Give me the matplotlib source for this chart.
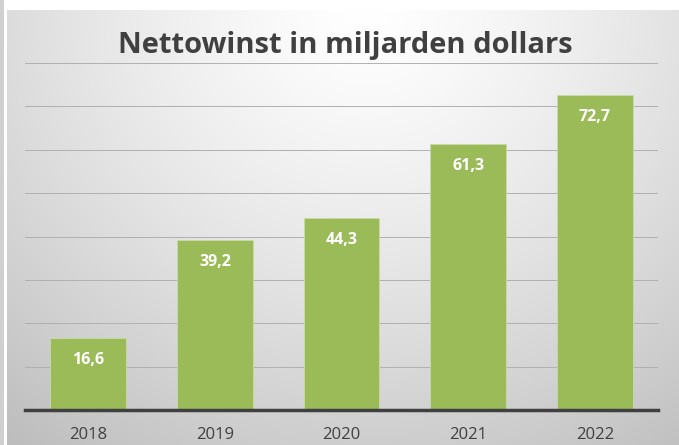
import matplotlib
matplotlib.use("Agg")
import matplotlib.pyplot as plt
import numpy as np

years = ["2018", "2019", "2020", "2021", "2022"]
profit = [16.6, 39.2, 44.3, 61.3, 72.7]
labels = ["16,6", "39,2", "44,3", "61,3", "72,7"]
title = "Nettowinst in miljarden dollars"

plt.rcParams['font.family'] = ['Open Sans', 'DejaVu Sans']

W, H = 679, 445
fig = plt.figure(figsize=(W / 100, H / 100), dpi=100)
fig.patch.set_facecolor("white")

# background panel with radial gradient
bg = fig.add_axes([7 / W, 0, (W - 7) / W, (H - 10) / H])
bg.axis("off")
yy, xx = np.mgrid[0:435, 0:672]
d = np.sqrt(((xx - 360) / 520.0) ** 2 + ((yy - 0) / 480.0) ** 2)
val = 1.0 - 0.22 * np.clip(d, 0, 1.2) ** 1.3
img = np.dstack([val, val, val])
bg.imshow(img, aspect="auto", extent=[0, 1, 0, 1], origin="upper")
bg.set_xlim(0, 1)
bg.set_ylim(0, 1)

# thin grey strip at the far left
strip = fig.add_axes([0, 0, 4 / W, 1])
strip.axis("off")
strip.add_patch(plt.Rectangle((0, 0), 1, 1, color="#d0d0d0", transform=strip.transAxes))

ax = fig.add_axes([25 / W, 35 / H, 633 / W, 347 / H])
ax.patch.set_alpha(0)
x = np.arange(len(years))
bars = ax.bar(x, profit, width=0.6, color="#9bbb59", edgecolor="#c9dba8", linewidth=0.6, zorder=3)
ax.set_xlim(-0.5, len(years) - 0.5)
ax.set_ylim(0, 80)
ax.set_yticks(np.arange(10, 81, 10))
ax.yaxis.grid(True, color="#b0b0b0", linewidth=0.7, zorder=0)
ax.tick_params(axis="y", left=False, labelleft=False)
ax.tick_params(axis="x", bottom=False, labelsize=12, colors="#404040", pad=9)
ax.set_xticks(x)
ax.set_xticklabels(years)
for s in ["top", "right", "left"]:
    ax.spines[s].set_visible(False)
ax.spines["bottom"].set_color("#404040")
ax.spines["bottom"].set_linewidth(2.5)
ax.spines["bottom"].set_zorder(4)

for b, lab in zip(bars, labels):
    ax.annotate(lab, (b.get_x() + b.get_width() / 2, b.get_height()),
                xytext=(0, -22), textcoords="offset pixels",
                ha="center", va="center", color="white", fontsize=11.5, fontweight="bold", zorder=5)

fig.text(345 / W, 1 - 46 / H, title, ha="center", va="center",
         fontsize=21, fontweight="bold", color="#404040")

fig.savefig("out.png", dpi=100)
